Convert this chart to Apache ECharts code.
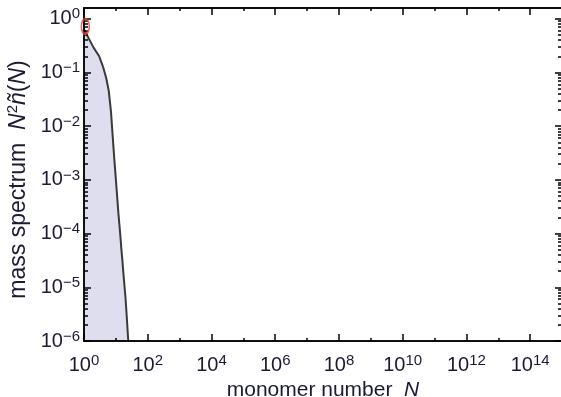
<!DOCTYPE html>
<html>
<head>
<meta charset="utf-8">
<title>Mass spectrum</title>
<script src="https://cdn.jsdelivr.net/npm/echarts@6/dist/echarts.min.js"></script>
<style>
  html, body { margin: 0; padding: 0; background: #fff; }
  #chart { width: 561px; height: 397px; }
</style>
</head>
<body>
<div id="chart"></div>
<script>
// Mass spectrum N^2 n(N) against monomer number N
const monomerN = [1, 2, 3, 4, 5, 6, 7, 8, 9, 10, 11, 12, 13, 14, 15, 16, 17, 18, 19, 20, 22, 24, 26];
const massSpectrum = [0.63, 0.29, 0.20, 0.125, 0.078, 0.045, 0.019, 0.0061, 0.0023, 0.00102,
  4.8e-4, 2.4e-4, 1.4e-4, 8.3e-5, 4.8e-5, 3.2e-5, 2.0e-5, 1.35e-5, 9.2e-6, 6.6e-6,
  2.8e-6, 1.2e-6, 5.5e-7];

// highlighted point at the start of the spectrum
const markerN = [1.1];
const markerValue = [0.72];

// axis ticks
const xMajorTicks = [1e0, 1e2, 1e4, 1e6, 1e8, 1e10, 1e12, 1e14];
const xMinorTicks = [1e1, 1e3, 1e5, 1e7, 1e9, 1e11, 1e13];
const yMajorTicks = [1e-6, 1e-5, 1e-4, 1e-3, 1e-2, 1e-1, 1e0];
const yMinorFactors = [2, 3, 4, 5, 6, 7, 8, 9];

const X_MIN = 1, X_MAX = 1e15;
const Y_MIN = 1e-6, Y_MAX = 1.585;

const yMinorTicks = [];
yMajorTicks.forEach(d => yMinorFactors.forEach(f => {
  const v = d * f;
  if (v < Y_MAX) yMinorTicks.push(v);
}));

const FONT = "'Liberation Sans', Arial, Helvetica, sans-serif";
const TEXT = '#1a1a33';

function powLabel(v) {
  const e = Math.round(Math.log10(v));
  return '{b|10}{s|' + (e < 0 ? '\u2212' + (-e) : String(e)) + '}';
}
const powRich = {
  b: { fontSize: 20, fontFamily: FONT, color: TEXT, lineHeight: 24 },
  s: { fontSize: 15, fontFamily: FONT, color: TEXT, verticalAlign: 'top', lineHeight: 15 }
};

const lineStyle = { color: '#000', width: 1.5 };

function xAxisDef(position, ticks, len, withLabels) {
  return {
    type: 'log', logBase: 10, min: X_MIN, max: X_MAX, position,
    z: 5,
    axisLine: { show: true, lineStyle },
    axisTick: { show: true, inside: true, length: len, customValues: ticks, lineStyle },
    axisLabel: withLabels ? {
      show: true, customValues: xMajorTicks, margin: 12,
      formatter: powLabel, rich: powRich
    } : { show: false },
    splitLine: { show: false },
    minorTick: { show: false }
  };
}
function yAxisDef(position, ticks, len, withLabels) {
  return {
    type: 'log', logBase: 10, min: Y_MIN, max: Y_MAX, position,
    z: 5,
    axisLine: { show: true, lineStyle },
    axisTick: { show: true, inside: true, length: len, customValues: ticks, lineStyle },
    axisLabel: withLabels ? {
      show: true, customValues: yMajorTicks, margin: 4,
      formatter: powLabel, rich: powRich
    } : { show: false },
    splitLine: { show: false },
    minorTick: { show: false }
  };
}

const xMain = xAxisDef('bottom', xMajorTicks, 7, true);
xMain.name = '{r|monomer number  }{i|N}';
xMain.nameLocation = 'middle';
xMain.nameGap = 28;
xMain.nameTextStyle = {
  rich: {
    r: { fontSize: 21, fontFamily: FONT, color: TEXT },
    i: { fontSize: 21, fontFamily: FONT, color: TEXT, fontStyle: 'italic' }
  }
};

const yMain = yAxisDef('left', yMajorTicks, 7, true);
// trailing spacer keeps the rotated title slightly below the plot's middle
yMain.name = '{r|mass spectrum  }{i|N}{s|2}{i|\u00f1}{r|(}{i|N}{r|)}{sp|}';
yMain.nameLocation = 'middle';
yMain.nameGap = 45;
yMain.nameRotate = 90;
yMain.nameTextStyle = {
  rich: {
    r: { fontSize: 23, fontFamily: FONT, color: TEXT, lineHeight: 26 },
    i: { fontSize: 23, fontFamily: FONT, color: TEXT, fontStyle: 'italic', lineHeight: 26 },
    s: { fontSize: 15, fontFamily: FONT, color: TEXT, verticalAlign: 'top', lineHeight: 15 },
    sp: { width: 10, fontSize: 23 }
  }
};

const option = {
  animation: false,
  backgroundColor: '#fff',
  grid: { left: 84, right: -1, top: 8, bottom: 56, containLabel: false, outerBoundsMode: 'none' },
  xAxis: [
    xMain,
    xAxisDef('bottom', xMinorTicks, 3, false),
    xAxisDef('top', xMajorTicks, 7, false),
    xAxisDef('top', xMinorTicks, 3, false)
  ],
  yAxis: [
    yMain,
    yAxisDef('left', yMinorTicks, 4, false),
    yAxisDef('right', yMajorTicks, 7, false),
    yAxisDef('right', yMinorTicks, 4, false)
  ],
  series: [
    {
      type: 'line',
      xAxisIndex: 0, yAxisIndex: 0,
      data: monomerN.map((n, i) => [n, massSpectrum[i]]),
      showSymbol: false,
      clip: true,
      lineStyle: { color: '#3a3a3a', width: 2 },
      areaStyle: { color: '#dedeef', opacity: 1, origin: 'start' },
      z: 2
    },
    {
      type: 'scatter',
      xAxisIndex: 0, yAxisIndex: 0,
      data: markerN.map((n, i) => [n, markerValue[i]]),
      symbol: 'circle',
      symbolSize: [8, 15],
      itemStyle: { color: 'rgba(0,0,0,0)', borderColor: '#e0402c', borderWidth: 2 },
      z: 6
    }
  ]
};

const chart = echarts.init(document.getElementById('chart'), null, { renderer: 'canvas' });
chart.setOption(option);
</script>
</body>
</html>
